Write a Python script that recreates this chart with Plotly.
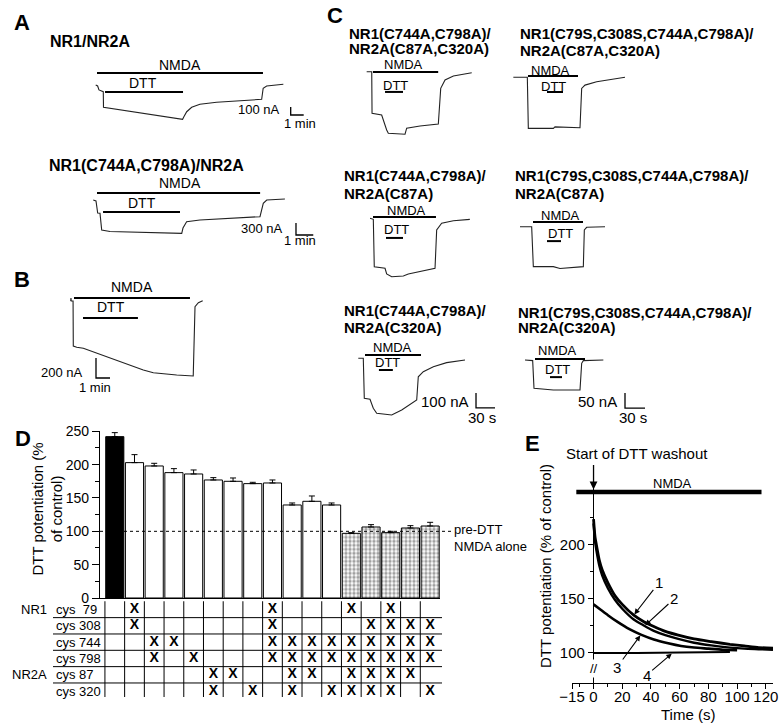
import plotly.graph_objects as go

W, H = 783, 725
FONT = "Liberation Sans, Arial, Helvetica, sans-serif"

# ---------------- Panel D: DTT potentiation (% of control) ----------------
bar_values = [242, 203, 198, 188, 186, 177, 175, 171.5, 172.5, 139.5, 145, 139.5,
              97, 106.5, 98, 105, 108]
bar_errors = [6, 12, 4, 6, 6, 3.5, 5, 2, 4.5, 3, 8, 3, 1, 3.5, 2, 3.5, 5.5]
bar_class = ["wild type"] + ["potentiated"] * 11 + ["not potentiated"] * 5
d_yticks = [0, 50, 100, 150, 200, 250]
d_yminor = [25, 75, 125, 175, 225]
pre_dtt_level = 100

# mutation table under the bars: column indices carrying an "X"
table_subunits = ["NR1", "", "", "", "NR2A", ""]
table_rows = ["cys\u00a0\u00a079", "cys 308", "cys 744", "cys 798", "cys 87", "cys 320"]
x_cys79 = [1, 8, 12, 14]
x_cys308 = [1, 8, 13, 14, 15, 16]
x_cys744 = [2, 3, 8, 9, 10, 11, 12, 13, 14, 15, 16]
x_cys798 = [2, 4, 8, 9, 10, 11, 12, 13, 14, 15, 16]
x_cys87 = [5, 6, 9, 10, 12, 13, 14, 15]
x_cys320 = [5, 7, 9, 11, 12, 13, 14, 16]
table_marks = [x_cys79, x_cys308, x_cys744, x_cys798, x_cys87, x_cys320]

# ---------------- Panel E: washout time courses ----------------
e_t12 = [0, 1, 2, 4, 6, 10, 15, 20, 28, 35, 42, 50, 59, 70, 82, 95, 105, 115, 125]
e_v1 = [224, 208, 200, 186, 177, 165, 153, 145, 135, 129, 124.5, 120, 116.5, 113,
        110.5, 108, 106.5, 105, 104.5]
e_v2 = [220, 204, 195, 181, 172, 160, 149, 141, 131, 125.5, 120.5, 116.5, 113, 109.5,
        107, 105, 104, 103.5, 103]
e_t3 = [0, 5, 10, 17, 25, 33, 42, 52, 61, 70, 80, 90, 100]
e_v3 = [145, 140, 135, 128.5, 122, 117, 112.5, 109, 106.5, 105, 104, 103, 102.5]
e_t4 = [0, 30, 60, 95]
e_v4 = [100, 100, 100.5, 101]
e_xticks = [-15, 0, 20, 40, 60, 80, 100, 120]
e_xminor = [-10, 10, 30, 50, 70, 90, 110]
e_yticks = [100, 150, 200]
e_yminor = [125, 175, 225]
e_nmda = [-12, 117]
e_curve_names = ["1", "2", "3", "4"]
e_label_t = [45.5, 56, 16.5, 37]
e_label_v = [165, 150, 87, 79.5]
e_point_t = [28, 35.5, 33, 55]
e_point_v = [135, 125, 117, 100]

# ---------------- Panels A-C: current traces (time s, current nA) ----------------
a1_t = [-6, 3, 9, 29, 30, 395, 401, 414, 437, 475, 552, 629, 760, 767, 783, 860]
a1_i = [0, -12, -62, -84, -279, -429, -396, -334, -279, -241, -216, -204, -179, -41, -12, 9]
a1_nmda, a1_dtt = [0, 766], [37, 397]
a1_bar_nA, a1_bar_s = 100, 60

a2_t = [-13, -3.5, 2.4, 10.4, 16.3, 45, 294, 298.4, 311, 357, 565.6, 577, 589, 652]
a2_i = [0, -25, -325, -333, -750, -788, -833, -700, -543, -500, -417, -83, 0, 25]
a2_nmda, a2_dtt = [0, 566], [21, 288]
a2_bar_nA, a2_bar_s = 300, 60

b_t = [-14, -13, -12, -4, -3, 11.6, 40, 297, 340, 440, 511, 518.6, 533, 551.6]
b_i = [0, 30, 0, 0, -450, -463, -473, -690, -717, -740, -750, -57, -17, 3]
b_nmda, b_dtt = [0, 497], [38.6, 274]
b_bar_nA, b_bar_s = 200, 60

c1_t = [-10, -2, -1.5, 13.7, 21.6, 24.2, 50.6, 53.2, 74.3, 103.2, 107, 113.8, 127, 156]
c1_i = [0, 0, -277, -289, -389, -411, -417, -377, -362, -349, -111, -55, -29, -7]
c1_nmda, c1_dtt = [0, 103], [19, 47.4]

c2_t = [-22, -1, 0.5, 38, 40.5, 78, 80.5, 85.5, 103, 145.5]
c2_i = [0, 0, -170, -170, -165, -168, -37, -26, -15, 0]
c2_nmda, c2_dtt = [0, 75], [28.5, 52.5]

c3_t = [-4.7, 0.5, 2, 19, 21.6, 29.5, 47.9, 55.8, 98, 100.6, 108.5, 127, 153]
c3_i = [0, -7, -323, -333, -371, -390, -385, -372, -333, -78, -33, -16, -7]
c3_nmda, c3_dtt = [0, 99.5], [20.5, 47.4]

c4_t = [-19.5, -2, 0.5, 30.5, 40.5, 75.5, 77, 80.5, 108]
c4_i = [0, 0, -133, -133, -139, -133, -11, -2, 0]
c4_nmda, c4_dtt = [0, 75], [21, 42]

c5_t = [-10.6, -2.7, -1.1, 7.9, 13.1, 18.5, 42.2, 58, 81.7, 84.2, 92.1, 108, 129, 158]
c5_i = [0, 0, -267, -273, -333, -367, -378, -345, -278, -123, -89, -56, -29, -11]
c5_nmda, c5_dtt = [0, 88.5], [22, 44]
c5_bar_nA, c5_bar_s = 100, 30

c6_t = [-15, -3.5, -1.5, 27.5, 67.5, 70, 72.5, 102.5]
c6_i = [0, -2, -94, -100, -100, -11, -2, 0]
c6_nmda, c6_dtt = [0, 75], [22.5, 40.5]
c6_bar_nA, c6_bar_s = 50, 30

# ======================================================================
fig = go.Figure()
layout = {}
annotations = []
shapes = []


def fx(p):
    return p / W


def fy(p):
    return 1 - p / H


def ptext(x, y, s, size=14, bold=False, xanchor="center", yanchor="middle", angle=0, align="center"):
    annotations.append(dict(x=fx(x), y=fy(y), xref="paper", yref="paper", text=s,
                            showarrow=False, xanchor=xanchor, yanchor=yanchor, textangle=angle,
                            align=align,
                            font=dict(family=FONT, size=size, color="black",
                                      weight="bold" if bold else "normal")))


def dtext(n, x, y, s, size=14, xanchor="center", yanchor="middle"):
    annotations.append(dict(x=x, y=y, xref=f"x{n}", yref=f"y{n}", text=s, showarrow=False,
                            xanchor=xanchor, yanchor=yanchor,
                            font=dict(family=FONT, size=size, color="black")))


def line(n, xs, ys, width=1.0, color="black"):
    fig.add_trace(go.Scatter(x=xs, y=ys, xaxis=f"x{n}", yaxis=f"y{n}", mode="lines",
                             line=dict(color=color, width=width), hoverinfo="skip",
                             showlegend=False))


# ---------------- trace panels ----------------
panels = [
    dict(t=a1_t, i=a1_i, nmda=a1_nmda, dtt=a1_dtt, box=(88, 318, 55, 132), origin=(97, 85),
         scale=(60 / 13, 12.5), nmda_lv=150, dtt_lv=-87.5, nmda_txt=(383, 250), dtt_txt=(212, 25),
         tsize=14, bar=(a1_bar_nA, a1_bar_s, 894, -275, 854, -300, 937, -479, "1 min", 13)),
    dict(t=a2_t, i=a2_i, nmda=a2_nmda, dtt=a2_dtt, box=(85, 325, 175, 250), origin=(97, 200),
         scale=(3.47, 25), nmda_lv=175, dtt_lv=-300, nmda_txt=(288, 425), dtt_txt=(156, -75),
         tsize=14, bar=(a2_bar_nA, a2_bar_s, 690.5, -575, 652, -700, 704, -1000, "1 min", 13)),
    dict(t=b_t, i=b_i, nmda=b_nmda, dtt=b_dtt, box=(40, 215, 278, 398), origin=(74, 301),
         scale=(60 / 14, 10), nmda_lv=30, dtt_lv=-170, nmda_txt=(248.6, 140), dtt_txt=(158.6, -60),
         tsize=14, bar=(b_bar_nA, b_bar_s, 94.3, -570, 47, -710, 90, -860, "1 min", 13)),
    dict(t=c1_t, i=c1_i, nmda=c1_nmda, dtt=c1_dtt, box=(360, 480, 58, 140), origin=(373, 71.7),
         scale=(1.58, 6.67), nmda_lv=-2, dtt_lv=-135, nmda_txt=(47.4, 45), dtt_txt=(36.3, -89),
         tsize=13, bar=None),
    dict(t=c2_t, i=c2_i, nmda=c2_nmda, dtt=c2_dtt, box=(505, 630, 64, 133), origin=(528, 77.3),
         scale=(1.5, 3.33), nmda_lv=4, dtt_lv=-49, nmda_txt=(33, 24), dtt_txt=(37.5, -29),
         tsize=13, bar=None),
    dict(t=c3_t, i=c3_i, nmda=c3_nmda, dtt=c3_dtt, box=(360, 480, 203, 282), origin=(373, 218.3),
         scale=(1.58, 6.67), nmda_lv=9, dtt_lv=-131, nmda_txt=(53.7, 49), dtt_txt=(37.9, -78),
         tsize=13, bar=None),
    dict(t=c4_t, i=c4_i, nmda=c4_nmda, dtt=c4_dtt, box=(510, 615, 208, 275), origin=(533, 226.7),
         scale=(1.5, 3.33), nmda_lv=16, dtt_lv=-48, nmda_txt=(40.5, 36), dtt_txt=(40.5, -21),
         tsize=13, bar=None),
    dict(t=c5_t, i=c5_i, nmda=c5_nmda, dtt=c5_dtt, box=(350, 505, 340, 428), origin=(365, 358.3),
         scale=(1.58, 6.67), nmda_lv=22, dtt_lv=-78, nmda_txt=(44, 75), dtt_txt=(34.8, -25),
         tsize=13, bar=(c5_bar_nA, c5_bar_s, 175.4, -231, 167.5, -290, 185, -398, "30 s", 15)),
    dict(t=c6_t, i=c6_i, nmda=c6_nmda, dtt=c6_dtt, box=(515, 655, 343, 428), origin=(535, 360),
         scale=(1.5, 3.33), nmda_lv=3, dtt_lv=-57, nmda_txt=(33, 30), dtt_txt=(33, -30),
         tsize=13, bar=(c6_bar_nA, c6_bar_s, 135, -110, 126, -137, 147, -190, "30 s", 15)),
]

n = 4
for p in panels:
    left, right, top, bottom = p["box"]
    x0, y0 = p["origin"]
    sx, sy = p["scale"]
    layout[f"xaxis{n}"] = dict(domain=[fx(left), fx(right)], range=[(left - x0) * sx, (right - x0) * sx],
                               visible=False, anchor=f"y{n}", fixedrange=True, automargin=False)
    layout[f"yaxis{n}"] = dict(domain=[fy(bottom), fy(top)], range=[-(bottom - y0) * sy, -(top - y0) * sy],
                               visible=False, anchor=f"x{n}", fixedrange=True, automargin=False)
    line(n, p["t"], p["i"], width=1.1, color="#222")
    line(n, p["nmda"], [p["nmda_lv"]] * 2, width=2)
    line(n, p["dtt"], [p["dtt_lv"]] * 2, width=2)
    dtext(n, p["nmda_txt"][0], p["nmda_txt"][1], "NMDA", size=p["tsize"])
    dtext(n, p["dtt_txt"][0], p["dtt_txt"][1], "DTT", size=p["tsize"])
    if p["bar"]:
        amp, dur, bx, by, atx, aty, ttx, tty, tlabel, fs = p["bar"]
        line(n, [bx, bx, bx + dur], [by, by - amp, by - amp], width=1.3)
        dtext(n, atx, aty, f"{amp} nA", size=fs, xanchor="right")
        dtext(n, ttx, tty, tlabel, size=fs)
    n += 1

# ---------------- Panel D bars ----------------
fill = {"wild type": "black", "potentiated": "white", "not potentiated": "white"}
patt = {"wild type": "", "potentiated": "", "not potentiated": "."}
xs = list(range(len(bar_values)))
fig.add_trace(go.Bar(
    x=xs, y=bar_values, width=0.92, xaxis="x", yaxis="y",
    marker=dict(color=[fill[c] for c in bar_class], line=dict(color="black", width=1),
                pattern=dict(shape=[patt[c] for c in bar_class], fgcolor="black",
                             bgcolor="white", size=4, solidity=0.55)),
    error_y=dict(type="data", symmetric=False, array=bar_errors, arrayminus=[0] * len(bar_errors),
                 color="black", thickness=1, width=3),
    hoverinfo="skip", showlegend=False))

layout["xaxis"] = dict(domain=[fx(100), fx(440)], range=[-0.75, len(bar_values) - 0.5],
                       showline=True, linecolor="black", linewidth=1.2, showticklabels=False,
                       ticks="", showgrid=False, zeroline=False, anchor="y", fixedrange=True,
                       automargin=False)
layout["yaxis"] = dict(domain=[fy(598), fy(431.3)], range=[0, 250], showline=True, linecolor="black",
                       linewidth=1.2, tickmode="array", tickvals=d_yticks, ticks="outside", ticklen=7,
                       tickwidth=1.2, tickcolor="black",
                       minor=dict(tickmode="array", tickvals=d_yminor, ticks="outside", ticklen=4,
                                  tickcolor="black", tickwidth=1),
                       tickfont=dict(family=FONT, size=14, color="black"), showgrid=False,
                       zeroline=False, anchor="x", fixedrange=True, automargin=False)
shapes.append(dict(type="line", xref="paper", yref="y", x0=fx(100), x1=fx(452), y0=pre_dtt_level,
                   y1=pre_dtt_level, line=dict(color="black", width=1, dash="dot")))
ptext(452, 537.5, "pre-DTT<br>NMDA alone", size=13, xanchor="left", align="left")
ptext(46.5, 509, "DTT potentiation (%<br>of control)", size=15, angle=-90)

# ---------------- table ----------------
layout["xaxis2"] = dict(domain=[fx(100), fx(440)], range=[-0.75, len(bar_values) - 0.5], visible=False,
                        anchor="y2", fixedrange=True, automargin=False)
layout["yaxis2"] = dict(domain=[fy(699.3), fy(601.3)], range=[len(table_rows) - 0.5, -0.5], visible=False,
                        anchor="x2", fixedrange=True, automargin=False)
tx, ty = [], []
for r, cols in enumerate(table_marks):
    tx += cols
    ty += [r] * len(cols)
fig.add_trace(go.Scatter(x=tx, y=ty, xaxis="x2", yaxis="y2", mode="text", text=["X"] * len(tx),
                         textfont=dict(family=FONT, size=14, color="black", weight="bold"),
                         hoverinfo="skip", showlegend=False))
for r in range(len(table_rows) - 1):
    shapes.append(dict(type="line", xref="paper", yref="y2", x0=fx(53), x1=fx(442), y0=r + 0.5, y1=r + 0.5,
                       line=dict(color="black", width=1)))
for k in range(len(bar_values)):
    shapes.append(dict(type="line", xref="x2", yref="y2", x0=k - 0.5, x1=k - 0.5, y0=-0.7,
                       y1=len(table_rows) - 0.64, line=dict(color="black", width=1)))
for r, (sub, lab) in enumerate(zip(table_subunits, table_rows)):
    annotations.append(dict(x=fx(54), y=r, xref="paper", yref="y2", text=lab, showarrow=False,
                            xanchor="left", yanchor="middle", font=dict(family=FONT, size=13, color="black")))
    if sub:
        annotations.append(dict(x=fx(49), y=r, xref="paper", yref="y2", text=sub, showarrow=False,
                                xanchor="right", yanchor="middle",
                                font=dict(family=FONT, size=13, color="black")))

# ---------------- Panel E ----------------
layout["xaxis3"] = dict(domain=[fx(572), fx(773)], range=[-15, 125], showline=True, linecolor="black",
                        linewidth=1.2, tickmode="array", tickvals=e_xticks, ticks="outside", ticklen=5,
                        tickcolor="black", tickwidth=1.2, ticklabelstandoff=-5,
                        minor=dict(tickmode="array", tickvals=e_xminor, ticks="outside", ticklen=3,
                                   tickcolor="black"),
                        tickfont=dict(family=FONT, size=15, color="black"), showgrid=False, zeroline=False,
                        anchor="y3", fixedrange=True, automargin=False)
layout["yaxis3"] = dict(domain=[fy(683), fy(487)], range=[72.2, 253.7], showline=True, linecolor="black",
                        linewidth=1.2, tickmode="array", tickvals=e_yticks, ticks="outside", ticklen=5,
                        tickcolor="black", tickwidth=1.2,
                        minor=dict(tickmode="array", tickvals=e_yminor, ticks="outside", ticklen=3,
                                   tickcolor="black"),
                        tickfont=dict(family=FONT, size=15, color="black"), showgrid=False, zeroline=False,
                        anchor="free", position=fx(593), fixedrange=True, automargin=False)
for tt, vv, wd in [(e_t4, e_v4, 2), (e_t3, e_v3, 2.6), (e_t12, e_v2, 2.4), (e_t12, e_v1, 2.8)]:
    fig.add_trace(go.Scatter(x=tt, y=vv, xaxis="x3", yaxis="y3", mode="lines",
                             line=dict(color="black", width=wd, shape="spline", smoothing=0.6),
                             hoverinfo="skip", showlegend=False))
line(3, e_nmda, [249, 249], width=4.5)
for name, lt, lv, pt, pv in zip(e_curve_names, e_label_t, e_label_v, e_point_t, e_point_v):
    annotations.append(dict(x=pt, y=pv, ax=lt, ay=lv, xref="x3", yref="y3", axref="x3", ayref="y3",
                            text=name, showarrow=True, arrowhead=2, arrowsize=1, arrowwidth=1.1,
                            arrowcolor="black", standoff=1,
                            font=dict(family=FONT, size=15, color="black")))
annotations.append(dict(x=0, y=251.5, xref="x3", yref="y3", ax=0, ay=-26, text="", showarrow=True,
                        arrowhead=2, arrowsize=1.2, arrowwidth=1.3, arrowcolor="black"))
annotations.append(dict(x=0, y=86, xref="x3", yref="y3", text="//", showarrow=False, bgcolor="white",
                        font=dict(family=FONT, size=13, color="black")))
ptext(637, 453, "Start of DTT washout", size=15)
ptext(672, 483, "NMDA", size=13)
ptext(688, 714, "Time (s)", size=15)
ptext(545, 566, "DTT potentiation (% of control)", size=15, angle=-90)

# ---------------- titles and panel letters ----------------
ptext(22, 23, "A", size=22, bold=True)
ptext(21.5, 279, "B", size=22, bold=True)
ptext(335, 16, "C", size=22, bold=True)
ptext(23, 438, "D", size=22, bold=True)
ptext(532, 444, "E", size=22, bold=True)

ptext(48, 42, "NR1/NR2A", size=16, bold=True, xanchor="left")
ptext(47, 165, "NR1(C744A,C798A)/NR2A", size=16, bold=True, xanchor="left")

c_titles = [
    (347, 33, "NR1(C744A,C798A)/"), (347, 48, "NR2A(C87A,C320A)"),
    (518, 33, "NR1(C79S,C308S,C744A,C798A)/"), (518, 50, "NR2A(C87A,C320A)"),
    (342, 175, "NR1(C744A,C798A)/"), (342, 193, "NR2A(C87A)"),
    (513, 175, "NR1(C79S,C308S,C744A,C798A)/"), (513, 193, "NR2A(C87A)"),
    (342, 310, "NR1(C744A,C798A)/"), (342, 327, "NR2A(C320A)"),
    (516, 312, "NR1(C79S,C308S,C744A,C798A)/"), (516, 327, "NR2A(C320A)"),
]
for x, y, s in c_titles:
    ptext(x, y, s, size=15, bold=True, xanchor="left")

fig.update_layout(width=W, height=H, margin=dict(l=0, r=0, t=0, b=0, pad=0), autosize=False,
                  paper_bgcolor="white", plot_bgcolor="rgba(0,0,0,0)", showlegend=False,
                  annotations=annotations, shapes=shapes, bargap=0.08, **layout)
fig.write_html("out.html", config={"displayModeBar": False},
               post_script="document.body.style.margin='0';document.body.style.padding='0';")
